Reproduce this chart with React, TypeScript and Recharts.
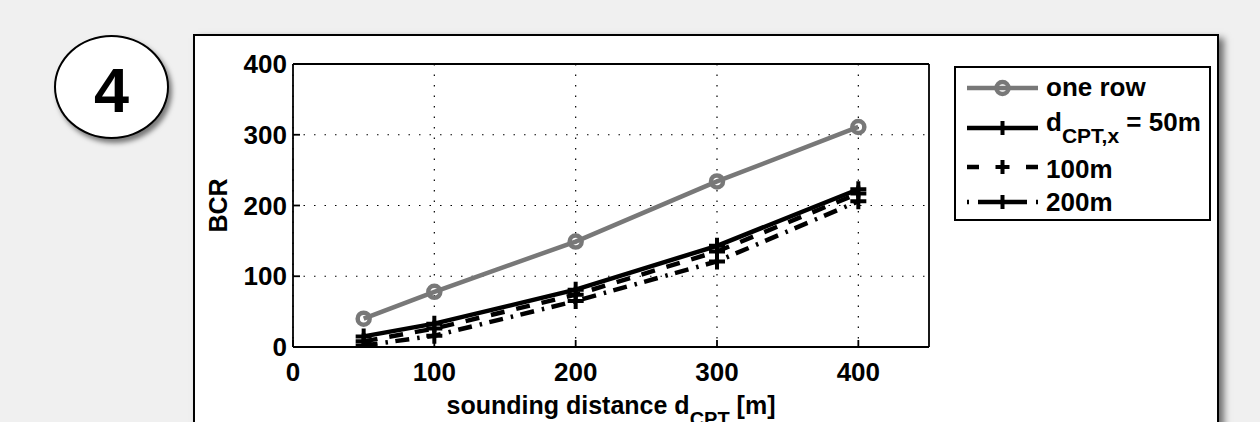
import React from 'react';
import { LineChart, Line, XAxis, YAxis, CartesianGrid, Legend } from 'recharts';

// ---- data ----
const distances = [50, 100, 200, 300, 400];
const oneRow = [40, 78, 149, 234, 311];
const cpt50 = [15, 33, 81, 143, 223];
const cpt100 = [8, 26, 74, 135, 217];
const cpt200 = [2, 16, 65, 121, 206];
const xTicks = [0, 100, 200, 300, 400];
const yTicks = [0, 100, 200, 300, 400];
const xDomain: [number, number] = [0, 450];
const yDomain: [number, number] = [0, 400];
const legendLabels = ['one row', 'd', 'CPT,x', ' = 50m', '100m', '200m'];
const panelNumber = '4';

const data = distances.map((d, i) => ({
  d,
  oneRow: oneRow[i],
  cpt50: cpt50[i],
  cpt100: cpt100[i],
  cpt200: cpt200[i],
}));

// ---- layout / style ----
const FONT = '"Liberation Sans", Arial, Helvetica, sans-serif';
const W = 1260;
const H = 422;
const PLOT = { left: 293, right: 929, top: 64, bottom: 347 };
const LEFT_AXIS_W = 60;
const RIGHT_AXIS_W = 6;
const TOP_AXIS_H = 4;
const BOTTOM_AXIS_H = 40;
const margin = {
  top: PLOT.top - TOP_AXIS_H,
  left: PLOT.left - LEFT_AXIS_W,
  right: W - PLOT.right - RIGHT_AXIS_W,
  bottom: H - PLOT.bottom - BOTTOM_AXIS_H,
};
const GRAY = '#787878';
const LW = 4.5;
const DASH = '14 12';
const DASHDOT = '14 8 2.5 7.5';
const axisStroke = { stroke: '#000', strokeWidth: 1.8 };
const tickFont = { fill: '#000', fontSize: 26, fontWeight: 'bold' as const, fontFamily: FONT };

const PlusDot = (props: any) => {
  const { cx, cy } = props;
  if (cx == null || cy == null) return null;
  return (
    <path
      d={`M${cx - 8},${cy}H${cx + 8}M${cx},${cy - 8}V${cy + 8}`}
      stroke="#000"
      strokeWidth={4}
      fill="none"
    />
  );
};

const XTitle = (props: any) => {
  const vb = props.viewBox || {};
  const x = (vb.x ?? PLOT.left) + (vb.width ?? PLOT.right - PLOT.left) / 2;
  const y = (vb.y ?? PLOT.bottom) + 67;
  return (
    <text x={x} y={y} textAnchor="middle" fill="#000" fontFamily={FONT} fontWeight="bold" fontSize={25}>
      sounding distance d
      <tspan dy={12} fontSize={20}>CPT</tspan>
      <tspan dy={-12}> [m]</tspan>
    </text>
  );
};

const YTitle = (props: any) => {
  const vb = props.viewBox || {};
  const x = (vb.x ?? PLOT.left - LEFT_AXIS_W) + (vb.width ?? LEFT_AXIS_W) - 66;
  const y = (vb.y ?? PLOT.top) + (vb.height ?? PLOT.bottom - PLOT.top) / 2;
  return (
    <text
      x={x}
      y={y}
      transform={`rotate(-90 ${x} ${y})`}
      textAnchor="middle"
      fill="#000"
      fontFamily={FONT}
      fontWeight="bold"
      fontSize={25}
    >
      BCR
    </text>
  );
};

const LegendBox = () => {
  const x1 = 11;
  const x2 = 82;
  const xm = (x1 + x2) / 2;
  const tx = 90;
  const textProps = { fill: '#000', fontFamily: FONT, fontWeight: 'bold' as const, fontSize: 26 };
  const plus = (y: number) => (
    <path d={`M${xm - 7},${y}H${xm + 7}M${xm},${y - 7}V${y + 7}`} stroke="#000" strokeWidth={4} />
  );
  return (
    <div
      style={{
        width: 257,
        height: 155,
        boxSizing: 'border-box',
        border: '2px solid #000',
        background: '#fff',
      }}
    >
      <svg width={253} height={151} style={{ display: 'block' }}>
        {/* one row */}
        <line x1={x1} x2={x2} y1={20} y2={20} stroke={GRAY} strokeWidth={LW} />
        <circle cx={xm} cy={20} r={6} stroke={GRAY} strokeWidth={4.5} fill="none" />
        <text x={tx} y={28} {...textProps}>{legendLabels[0]}</text>
        {/* 50m */}
        <line x1={x1} x2={x2} y1={60} y2={60} stroke="#000" strokeWidth={LW} />
        {plus(60)}
        <text x={tx} y={63} {...textProps}>
          {legendLabels[1]}
          <tspan dy={12} fontSize={21}>{legendLabels[2]}</tspan>
          <tspan dy={-12}>{legendLabels[3]}</tspan>
        </text>
        {/* 100m */}
        <line x1={x1} x2={x2} y1={99} y2={99} stroke="#000" strokeWidth={LW} strokeDasharray="12 47" />
        {plus(99)}
        <text x={tx} y={110} {...textProps}>{legendLabels[4]}</text>
        {/* 200m */}
        <line x1={x1} x2={x2} y1={134} y2={134} stroke="#000" strokeWidth={LW} strokeDasharray="2 9 49 9 2" />
        {plus(134)}
        <text x={tx} y={143} {...textProps}>{legendLabels[5]}</text>
      </svg>
    </div>
  );
};

export default function App() {
  return (
    <div
      style={{
        position: 'absolute',
        left: 0,
        top: 0,
        width: W,
        height: H,
        overflow: 'hidden',
        background: '#f0f0f0',
        fontFamily: FONT,
      }}
    >
      {/* white panel */}
      <div
        style={{
          position: 'absolute',
          left: 193,
          top: 34,
          width: 1026,
          height: 440,
          boxSizing: 'border-box',
          border: '2px solid #000',
          background: '#fff',
          boxShadow: '5px 4px 7px rgba(0,0,0,0.55)',
        }}
      />
      {/* numbered bubble */}
      <div
        style={{
          position: 'absolute',
          left: 54,
          top: 35,
          width: 115,
          height: 104,
          boxSizing: 'border-box',
          border: '2px solid #000',
          borderRadius: '50%',
          background: '#fff',
          boxShadow: '3px 4px 5px rgba(0,0,0,0.5)',
          display: 'flex',
          alignItems: 'center',
          justifyContent: 'center',
          fontWeight: 'bold',
          fontSize: 63,
          lineHeight: 1,
          color: '#000',
        }}
      >
        <span style={{ marginTop: 6 }}>{panelNumber}</span>
      </div>
      <div style={{ position: 'absolute', left: 0, top: 0 }}>
        <LineChart width={W} height={H} data={data} margin={margin}>
          <CartesianGrid
            xAxisId="b"
            yAxisId="l"
            stroke="#000"
            strokeWidth={1.2}
            strokeDasharray="1.5 9"
            horizontalValues={yTicks}
            verticalValues={xTicks}
          />
          <XAxis
            xAxisId="b"
            dataKey="d"
            type="number"
            domain={xDomain}
            ticks={xTicks}
            allowDataOverflow
            interval={0}
            height={BOTTOM_AXIS_H}
            tickSize={-7}
            tickMargin={23}
            axisLine={axisStroke}
            tickLine={axisStroke}
            tick={tickFont}
            label={<XTitle />}
          />
          <XAxis
            xAxisId="t"
            orientation="top"
            dataKey="d"
            type="number"
            domain={xDomain}
            ticks={xTicks}
            allowDataOverflow
            interval={0}
            height={TOP_AXIS_H}
            tickSize={-7}
            axisLine={axisStroke}
            tickLine={axisStroke}
            tick={false}
          />
          <YAxis
            yAxisId="l"
            type="number"
            domain={yDomain}
            ticks={yTicks}
            allowDataOverflow
            interval={0}
            width={LEFT_AXIS_W}
            tickSize={-7}
            tickMargin={13}
            axisLine={axisStroke}
            tickLine={axisStroke}
            tick={tickFont}
            label={<YTitle />}
          />
          <YAxis
            yAxisId="r"
            orientation="right"
            type="number"
            domain={yDomain}
            ticks={yTicks}
            allowDataOverflow
            interval={0}
            width={RIGHT_AXIS_W}
            tickSize={-7}
            axisLine={axisStroke}
            tickLine={axisStroke}
            tick={false}
          />
          <Line
            xAxisId="b"
            yAxisId="l"
            dataKey="cpt200"
            stroke="#000"
            strokeWidth={LW}
            strokeDasharray={DASHDOT}
            dot={<PlusDot />}
            isAnimationActive={false}
          />
          <Line
            xAxisId="b"
            yAxisId="l"
            dataKey="cpt100"
            stroke="#000"
            strokeWidth={LW}
            strokeDasharray={DASH}
            dot={<PlusDot />}
            isAnimationActive={false}
          />
          <Line
            xAxisId="b"
            yAxisId="l"
            dataKey="cpt50"
            stroke="#000"
            strokeWidth={LW}
            dot={<PlusDot />}
            isAnimationActive={false}
          />
          <Line
            xAxisId="b"
            yAxisId="l"
            dataKey="oneRow"
            stroke={GRAY}
            strokeWidth={LW}
            dot={{ r: 6, stroke: GRAY, strokeWidth: 4.5, fill: 'none' }}
            isAnimationActive={false}
          />
          <Legend
            layout="vertical"
            align="center"
            verticalAlign="middle"
            content={() => <LegendBox />}
            wrapperStyle={{ position: 'absolute', left: 954, top: 66, width: 257, height: 155 }}
          />
        </LineChart>
      </div>
    </div>
  );
}
